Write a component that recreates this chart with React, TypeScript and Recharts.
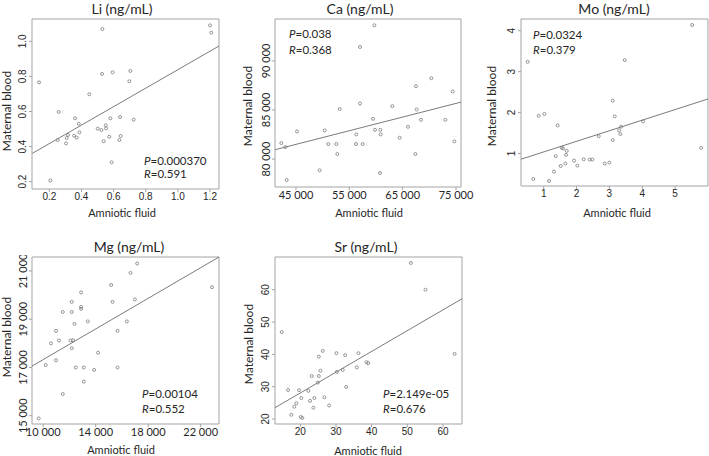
import { ScatterChart, Scatter, XAxis, YAxis, ReferenceLine, ReferenceArea } from 'recharts'

type Pt = [number, number]

// Li (ng/mL): amniotic fluid vs maternal blood
const LI_POINTS: Pt[] = [
  [0.136, 0.766], [0.206, 0.207], [0.53, 1.07], [1.2, 1.091], [1.208, 1.049],
  [0.258, 0.597], [0.252, 0.437], [0.304, 0.418], [0.308, 0.449], [0.316, 0.466],
  [0.354, 0.462], [0.37, 0.451], [0.36, 0.561], [0.383, 0.53], [0.387, 0.481],
  [0.449, 0.698], [0.501, 0.502], [0.524, 0.494], [0.528, 0.814], [0.538, 0.43],
  [0.551, 0.521], [0.553, 0.504], [0.573, 0.456], [0.58, 0.561], [0.588, 0.31],
  [0.594, 0.823], [0.64, 0.568], [0.636, 0.437], [0.644, 0.46], [0.698, 0.772],
  [0.704, 0.831], [0.725, 0.553],
]
const LI_FIT: Pt[] = [[0.094, 0.361], [1.256, 0.973]]

const CA_POINTS: Pt[] = [
  [42250, 81630], [43000, 81220], [43250, 77860], [45190, 82810], [49440, 78850],
  [50380, 82920], [51060, 81530], [52560, 81530], [52750, 80510], [53190, 85100],
  [56310, 82510], [56250, 81530], [57000, 91420], [57000, 85660], [57500, 81530],
  [59690, 93630], [59440, 84100], [59810, 82980], [60810, 82980], [60880, 82510],
  [60750, 78580], [63060, 85390], [64440, 82170], [66000, 83290], [67380, 80510],
  [67500, 87420], [67630, 85050], [68440, 84000], [70380, 88240], [73000, 84000],
  [74380, 86880], [74690, 81800],
]
const CA_FIT: Pt[] = [[41060, 80950], [75940, 85800]]

const MO_POINTS: Pt[] = [
  [0.513, 3.24], [0.685, 0.379], [0.848, 1.924], [1.02, 1.965], [1.162, 0.33],
  [1.315, 0.558], [1.365, 0.935], [1.426, 1.687], [1.518, 0.697], [1.548, 1.139],
  [1.589, 1.123], [1.66, 0.755], [1.68, 0.967], [1.701, 1.065], [1.924, 0.828],
  [2.025, 0.706], [2.218, 0.861], [2.401, 0.853], [2.482, 0.853], [2.675, 1.425],
  [2.858, 0.755], [3.0, 0.779], [3.102, 2.292], [3.102, 1.327], [3.162, 1.908],
  [3.294, 1.564], [3.335, 1.474], [3.355, 1.654], [3.467, 3.281], [4.025, 1.785],
  [5.518, 4.14], [5.792, 1.139],
]
const MO_FIT: Pt[] = [[0.31, 0.861], [6.0, 2.333]]

const MG_POINTS: Pt[] = [
  [9656, 14890], [10191, 17100], [10595, 18000], [10977, 18520], [10977, 17300],
  [11206, 18120], [11489, 19300], [11489, 15900], [12176, 19720], [12176, 19300],
  [12176, 17800], [12076, 18120], [12276, 18130], [12382, 18810], [12481, 17000],
  [12885, 20110], [12885, 19510], [12885, 19430], [13092, 17000], [13092, 16410],
  [13397, 18910], [13878, 16900], [14183, 17610], [15176, 20420], [15282, 19720],
  [15664, 18520], [15664, 17000], [16374, 18910], [16656, 20920], [16985, 19820],
  [17160, 21310], [22863, 20330],
]
const MG_FIT: Pt[] = [[9145, 17057], [23397, 21579]]

const SR_POINTS: Pt[] = [
  [14.78, 46.9], [16.55, 28.99], [17.47, 21.3], [18.31, 23.8], [18.88, 24.87],
  [19.63, 28.9], [20.11, 20.62], [20.56, 20.3], [20.28, 26.5], [22.25, 28.7],
  [22.72, 25.6], [23.2, 33.3], [23.65, 23.5], [23.93, 26.5], [24.89, 31.26],
  [25.17, 33.3], [25.17, 39.3], [25.62, 34.97], [26.29, 41.08], [26.74, 26.7],
  [28.06, 24.2], [30.11, 40.37], [30.22, 34.57], [31.9, 35.2], [32.56, 39.75],
  [32.84, 29.92], [35.84, 36.0], [36.3, 40.37], [38.54, 37.58], [39.02, 37.27],
  [51.0, 68.3], [55.1, 60.0], [63.26, 40.16],
]
const SR_FIT: Pt[] = [[12.89, 23.5], [65.34, 57.2]]

const LI_X_TICKS = [0.2, 0.4, 0.6, 0.8, 1.0, 1.2]
const LI_Y_TICKS = [0.2, 0.4, 0.6, 0.8, 1.0]
const CA_X_TICKS = [45000, 55000, 65000, 75000]
const CA_Y_TICKS = [80000, 85000, 90000]
const MO_X_TICKS = [1, 2, 3, 4, 5]
const MO_Y_TICKS = [1, 2, 3, 4]
const MG_X_TICKS = [10000, 14000, 18000, 22000]
const MG_Y_TICKS = [15000, 17000, 19000, 21000]
const SR_X_TICKS = [20, 30, 40, 50, 60]
const SR_Y_TICKS = [20, 30, 40, 50, 60]

const BOX = '#a3a3a3'
const INK = '#7b7b7b'
const TEXT = '#262626'
const SANS = 'Lato, "Open Sans", sans-serif'
const ARIAL = '"Liberation Sans", Arial, sans-serif'

const dec1 = (v: number) => v.toFixed(1)
const intg = (v: number) => String(v)
const thousands = (v: number) => `${Math.floor(v / 1000)} 000`

interface PanelProps {
  box: [number, number, number, number]
  points: Pt[]
  fit: Pt[]
  xDomain: [number, number]
  yDomain: [number, number]
  xTicks: number[]
  yTicks: number[]
  fmt: (v: number) => string
  tickFont: string
  tickSize: number
}

const Ring = (props: any) => (
  <circle cx={props.cx} cy={props.cy} r={1.5} fill="none" stroke={INK} strokeWidth={0.8} />
)

function Panel(p: PanelProps) {
  const [left, top, w, h] = p.box
  const data = p.points.map(([x, y]) => ({ x, y }))
  const XTick = (t: any) => (
    <text x={t.x} y={t.y} dy="0.71em" textAnchor="middle" fontFamily={p.tickFont} fontSize={p.tickSize} fill={TEXT}>
      {p.fmt(t.payload.value)}
    </text>
  )
  const YTick = (t: any) => (
    <text
      x={t.x - 4}
      y={t.y}
      transform={`rotate(-90 ${t.x - 4} ${t.y})`}
      textAnchor="middle"
      dominantBaseline="central"
      fontFamily={p.tickFont}
      fontSize={p.tickSize}
      fill={TEXT}
    >
      {p.fmt(t.payload.value)}
    </text>
  )
  return (
    <div style={{ position: 'absolute', left: left - 30, top: top - 2 }}>
      <ScatterChart width={w + 50} height={h + 27} margin={{ top: 2, right: 20, bottom: 0, left: 0 }}>
        <XAxis
          type="number"
          dataKey="x"
          domain={p.xDomain}
          ticks={p.xTicks}
          allowDataOverflow
          interval={0}
          height={25}
          axisLine={false}
          tickSize={3}
          tickMargin={1}
          tickLine={{ stroke: BOX }}
          tick={XTick}
        />
        <YAxis
          type="number"
          dataKey="y"
          domain={p.yDomain}
          ticks={p.yTicks}
          allowDataOverflow
          interval={0}
          width={30}
          axisLine={false}
          tickSize={3}
          tickMargin={2}
          tickLine={{ stroke: BOX }}
          tick={YTick}
        />
        <ReferenceArea
          x1={p.xDomain[0]}
          x2={p.xDomain[1]}
          y1={p.yDomain[0]}
          y2={p.yDomain[1]}
          fill="none"
          fillOpacity={0}
          stroke={BOX}
          strokeWidth={1}
          ifOverflow="visible"
        />
        <ReferenceLine
          segment={[{ x: p.fit[0][0], y: p.fit[0][1] }, { x: p.fit[1][0], y: p.fit[1][1] }]}
          stroke={INK}
          strokeWidth={1}
          ifOverflow="visible"
        />
        <Scatter data={data} dataKey="y" shape={Ring} isAnimationActive={false} />
      </ScatterChart>
    </div>
  )
}

const Title = ({ x, y, text }: { x: number; y: number; text: string }) => (
  <div style={{ position: 'absolute', left: x, top: y, transform: 'translate(-50%, -50%)', whiteSpace: 'nowrap', fontFamily: SANS, fontSize: 14, lineHeight: 1, color: TEXT }}>
    {text}
  </div>
)

const XLabel = ({ x, y }: { x: number; y: number }) => (
  <div style={{ position: 'absolute', left: x, top: y, transform: 'translate(-50%, -50%)', whiteSpace: 'nowrap', fontFamily: SANS, fontSize: 11, lineHeight: 1, color: TEXT }}>
    Amniotic fluid
  </div>
)

const YLabel = ({ x, y }: { x: number; y: number }) => (
  <div style={{ position: 'absolute', left: x, top: y, transform: 'translate(-50%, -50%) rotate(-90deg)', whiteSpace: 'nowrap', fontFamily: SANS, fontSize: 12, lineHeight: 1, color: TEXT }}>
    Maternal blood
  </div>
)

const Stat = ({ x, y, k, v }: { x: number; y: number; k: string; v: string }) => (
  <div style={{ position: 'absolute', left: x, top: y, transform: 'translateY(-50%)', whiteSpace: 'nowrap', fontFamily: SANS, fontSize: 11.5, lineHeight: 1, color: TEXT }}>
    <i>{k}</i>={v}
  </div>
)

export default function App() {
  return (
    <div style={{ position: 'absolute', left: 0, top: 0, width: 709, height: 456, background: '#fff', overflow: 'hidden' }}>
      <Panel box={[32, 19, 187, 170]} points={LI_POINTS} fit={LI_FIT} xDomain={[0.092, 1.256]} yDomain={[0.158, 1.127]}
        xTicks={LI_X_TICKS} yTicks={LI_Y_TICKS} fmt={dec1} tickFont={ARIAL} tickSize={10} />
      <Panel box={[275, 19, 186, 168]} points={CA_POINTS} fit={CA_FIT} xDomain={[41060, 75940]} yDomain={[77153, 94271]}
        xTicks={CA_X_TICKS} yTicks={CA_Y_TICKS} fmt={thousands} tickFont={SANS} tickSize={11} />
      <Panel box={[521, 19, 187, 167]} points={MO_POINTS} fit={MO_FIT} xDomain={[0.31, 6.0]} yDomain={[0.207, 4.286]}
        xTicks={MO_X_TICKS} yTicks={MO_Y_TICKS} fmt={intg} tickFont={ARIAL} tickSize={10} />
      <Panel box={[32, 257, 187, 167]} points={MG_POINTS} fit={MG_FIT} xDomain={[9145, 23397]} yDomain={[14657, 21579]}
        xTicks={MG_X_TICKS} yTicks={MG_Y_TICKS} fmt={thousands} tickFont={SANS} tickSize={11} />
      <Panel box={[275, 257, 187, 167]} points={SR_POINTS} fit={SR_FIT} xDomain={[12.89, 65.34]} yDomain={[18.45, 70.14]}
        xTicks={SR_X_TICKS} yTicks={SR_Y_TICKS} fmt={intg} tickFont={ARIAL} tickSize={10} />

      <Title x={122} y={9} text="Li (ng/mL)" />
      <Title x={360} y={9} text="Ca (ng/mL)" />
      <Title x={614} y={9} text="Mo (ng/mL)" />
      <Title x={129} y={247} text="Mg (ng/mL)" />
      <Title x={366} y={247} text="Sr (ng/mL)" />

      <XLabel x={122} y={212} />
      <XLabel x={369} y={212} />
      <XLabel x={617} y={212} />
      <XLabel x={121} y={449} />
      <XLabel x={368} y={450} />

      <YLabel x={7} y={111} />
      <YLabel x={248} y={106} />
      <YLabel x={492} y={106} />
      <YLabel x={7} y={337} />
      <YLabel x={249} y={344} />

      <Stat x={144} y={160.5} k="P" v="0.000370" />
      <Stat x={144} y={174} k="R" v="0.591" />
      <Stat x={289} y={34} k="P" v="0.038" />
      <Stat x={289} y={50} k="R" v="0.368" />
      <Stat x={533} y={35} k="P" v="0.0324" />
      <Stat x={533} y={50} k="R" v="0.379" />
      <Stat x={142} y={394} k="P" v="0.00104" />
      <Stat x={142} y={409} k="R" v="0.552" />
      <Stat x={383} y={394} k="P" v="2.149e-05" />
      <Stat x={383} y={409} k="R" v="0.676" />
    </div>
  )
}
